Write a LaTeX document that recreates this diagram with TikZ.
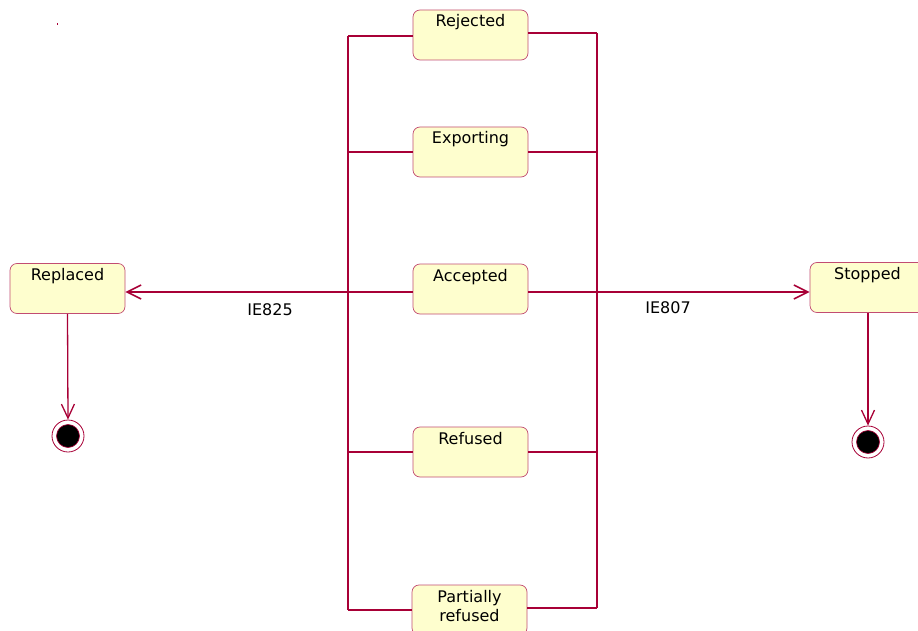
\documentclass[tikz,border=0pt]{standalone}
\usepackage{fontspec}
\setmainfont{DejaVu Sans}
\usetikzlibrary{arrows.meta,calc}
\definecolor{umlred}{HTML}{A80036}
\definecolor{umlfill}{HTML}{FEFECE}
\begin{document}
\begin{tikzpicture}[x=1pt,y=-1pt,
  st/.style={draw=umlred!70, line width=0.7pt, fill=umlfill, rounded corners=7pt,
    minimum width=115pt, minimum height=50pt, inner sep=0pt,
    text height=17pt, text depth=33pt, align=center,
    font=\fontsize{16}{19}\selectfont, text=black},
  twoline/.style={text height=36pt, text depth=14pt},
  bus/.style={umlred, line width=1.6pt},
  tr/.style={umlred, line width=2.2pt, -{Straight Barb[length=14pt,width=14pt,line width=1.6pt]}},
  fin/.style={umlred, line width=1.3pt, -{Straight Barb[length=14pt,width=13pt,line width=1.3pt]}},
  endout/.style={circle, draw=umlred, line width=0.8pt, fill=white, minimum size=32pt, inner sep=0pt},
  endin/.style={circle, draw=umlred, line width=0.6pt, fill=black, minimum size=23pt, inner sep=0pt},
  lbl/.style={font=\fontsize{16}{19}\selectfont, text=black, inner sep=0pt}
]
\useasboundingbox (0,0) rectangle (918,631);

% states
\node[st] (rej) at (470.5,35) {Rejected};
\node[st] (exp) at (470.5,152) {Exporting};
\node[st] (acc) at (470.5,289) {Accepted};
\node[st] (ref) at (470.5,452) {Refused};
\node[st,twoline] (par) at (469.5,610) {Partially\\refused};
\node[st] (rep) at (67.5,288.5) {Replaced};
\node[st] (sto) at (867.5,287.5) {Stopped};

% end states
\node[endout] (e1) at (68,436) {};
\node[endin] at (e1) {};
\node[endout] (e2) at (868,442) {};
\node[endin] at (e2) {};

% bus coordinates
\coordinate (lt) at (348,36);
\coordinate (lb) at (348,610);
\coordinate (rt) at (597,33);
\coordinate (rb) at (597,608);
\coordinate (jl) at (348,292);
\coordinate (jr) at (597,292);

% left bus
\draw[bus] (lt) -- (lb);
\draw[bus] (lt) -- (rej.west |- lt);
\draw[bus] (exp.west) -- (exp.west -| lt);
\draw[bus] (acc.west |- jl) -- (jl);
\draw[bus] (ref.west) -- (ref.west -| lt);
\draw[bus] (par.west) -- (lb);

% right bus
\draw[bus] (rt) -- (rb);
\draw[bus] (rej.east |- rt) -- (rt);
\draw[bus] (exp.east) -- (exp.east -| rt);
\draw[bus] (acc.east |- jr) -- (jr);
\draw[bus] (ref.east) -- (ref.east -| rt);
\draw[bus] (par.east |- rb) -- (rb);

% transitions
\draw[tr] (jl) -- (rep.east |- jl);
\draw[tr] (jr) -- (sto.west |- jr);
\node[lbl] (l825) at (270,310) {IE825};
\node[lbl] (l807) at (668,308) {IE807};

\draw[fin] (rep.south) -- (e1.north);
\draw[fin] (sto.south -| e2) -- (e2.north);

% tiny mark
\fill[umlred] (57,23) rectangle (58,25);
\end{tikzpicture}
\end{document}
